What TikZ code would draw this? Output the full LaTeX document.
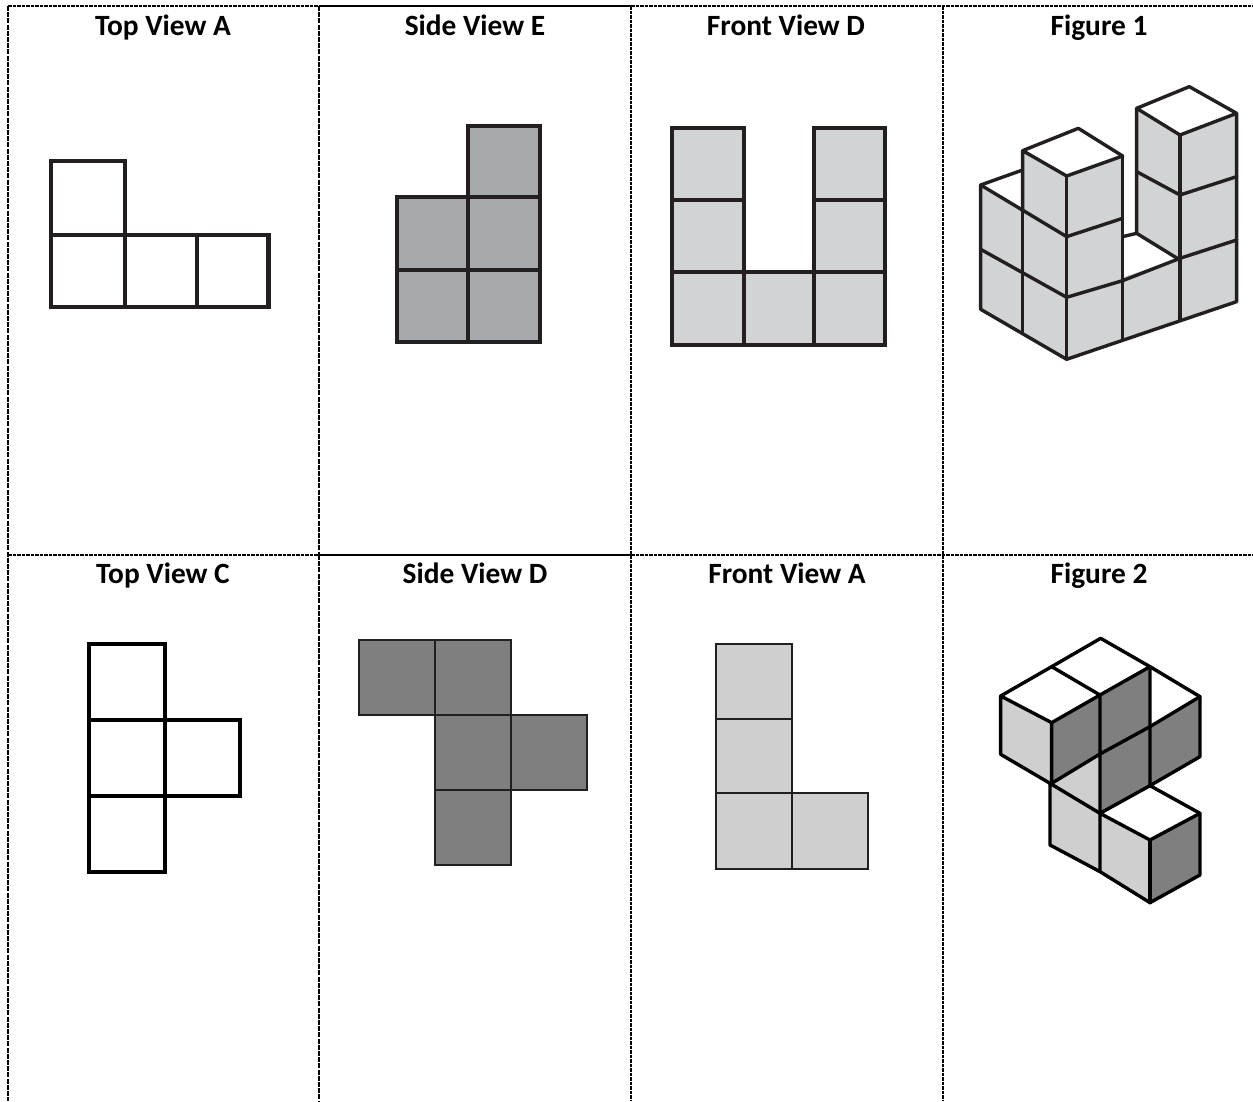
\documentclass[tikz,border=0pt]{standalone}
\usepackage{fontspec}
\setmainfont{Carlito}
\definecolor{ink}{HTML}{231F20}
\definecolor{lightg}{HTML}{D1D3D4}
\definecolor{midg}{HTML}{A7A9AC}
\definecolor{darkg}{HTML}{7F7F7F}
\definecolor{paleg}{HTML}{CFCFCF}
\tikzset{
  captext/.style={font=\bfseries\fontsize{29.4}{32}\selectfont, text=black, anchor=base, inner sep=0pt},
  rulethin/.style={black, line width=1.3pt, dash pattern=on 3.5pt off 1pt},
  rulethick/.style={black, line width=2.8pt, dash pattern=on 5pt off 1.2pt},
  solidrule/.style={black, line width=1.8pt},
  iso/.style={line width=3.4pt, draw=ink, line join=round, line cap=round},
  isob/.style={line width=3.4pt, draw=black, line join=round, line cap=round},
  grida/.style={line width=4.7pt, draw=ink, line cap=rect},
}
\begin{document}
\begin{tikzpicture}[x=1pt,y=-1pt]
\useasboundingbox (0,0) rectangle (1253,1101);
\fill[white] (0,0) rectangle (1253,1101);
% table rules
\draw[rulethick] (8,6) -- (8,1101);
\draw[rulethick] (319,6) -- (319,555);
\draw[rulethick,line width=2.2pt] (319,555) -- (319,1101);
\draw[rulethin] (631,6) -- (631,1101);
\draw[rulethin] (943,6) -- (943,1101);
\draw[rulethin] (8,6) -- (319,6);
\draw[solidrule] (319,6) -- (631,6);
\draw[rulethin] (631,6) -- (1253,6);
\draw[rulethin] (8,555) -- (319,555);
\draw[solidrule] (319,555) -- (631,555);
\draw[rulethin] (631,555) -- (1253,555);
% captions
\node[captext] (c1) at (163,35) {Top View A};
\node[captext] (c2) at (475,35) {Side View E};
\node[captext] (c3) at (786,35) {Front View D};
\node[captext] (c4) at (1099,35) {Figure 1};
\node[captext] (c5) at (163,583) {Top View C};
\node[captext] (c6) at (475,583) {Side View D};
\node[captext] (c7) at (787,583) {Front View A};
\node[captext] (c8) at (1099,583) {Figure 2};
% Top View A
\draw[grida] (51,161) rectangle (125,235) (51,235) rectangle (125,307) (125,235) rectangle (197,307) (197,235) rectangle (268.5,307);
% Side View E
\draw[grida,fill=midg] (468,126) rectangle (540,197) (397,197) rectangle (468,270) (468,197) rectangle (540,270) (397,270) rectangle (468,342) (468,270) rectangle (540,342);
% Front View D
\draw[grida,fill=lightg] (672,128) rectangle (744,200) (814,128) rectangle (885,200) (672,200) rectangle (744,272) (814,200) rectangle (885,272) (672,272) rectangle (744,345) (744,272) rectangle (814,345) (814,272) rectangle (885,345);
% Top View C
\draw[grida,draw=black] (89,644) rectangle (165,720) (89,720) rectangle (165,796) (165,720) rectangle (240,796) (89,796) rectangle (165,872);
% Side View D
\draw[line width=2.7pt,draw=ink,fill=darkg] (359,640) rectangle (435,715) (435,640) rectangle (511,715) (435,715) rectangle (511,790) (511,715) rectangle (587,790) (435,790) rectangle (511,865);
% Front View A
\draw[line width=2.5pt,draw=ink,fill=paleg] (716,644) rectangle (792,719) (716,719) rectangle (792,793) (716,793) rectangle (792,869) (792,793) rectangle (868,869);
% Figure 1
\begin{scope}[shift={(950,70)},x=0.3333pt,y=-0.3333pt]
\fill[lightg] (92,345) -- (350,500) -- (350,868) -- (92,718) -- cycle;
\fill[lightg] (218,242) -- (350,318) -- (350,500) -- (218,425) -- cycle;
\fill[lightg] (350,318) -- (518,258) -- (518,808) -- (350,868) -- cycle;
\fill[lightg] (518,622) -- (690,565) -- (690,750) -- (518,808) -- cycle;
\fill[lightg] (690,195) -- (860,130) -- (860,695) -- (690,750) -- cycle;
\fill[lightg] (560,115) -- (690,195) -- (690,565) -- (560,490) -- cycle;
\draw[iso] (92,345) -- (92,718) -- (350,868) -- (860,695) -- (860,130) -- (718,50) -- (560,115) -- (690,195) -- (860,130);
\draw[iso] (92,345) -- (218,300);
\draw[iso] (92,345) -- (350,500) -- (518,445);
\draw[iso] (92,538) -- (350,682) -- (518,632) -- (690,565) -- (860,510);
\draw[iso] (218,425) -- (218,790);
\draw[iso] (218,242) -- (385,175) -- (518,258) -- (350,318) -- (218,242) -- (218,425);
\draw[iso] (350,318) -- (350,868);
\draw[iso] (518,258) -- (518,808);
\draw[iso] (690,195) -- (690,750);
\draw[iso] (560,115) -- (560,490) -- (690,570);
\draw[iso] (560,305) -- (690,375) -- (860,320);
\draw[iso] (518,500) -- (560,490);
\end{scope}
% Figure 2
\begin{scope}[shift={(970,620)},x=0.3333pt,y=-0.3333pt]
\fill[paleg] (92,228) -- (245,308) -- (245,490) -- (92,403) -- cycle;
\fill[paleg] (245,490) -- (390,402) -- (390,580) -- cycle;
\fill[paleg] (240,490) -- (390,580) -- (390,755) -- (240,675) -- cycle;
\fill[paleg] (390,580) -- (540,660) -- (540,848) -- (390,755) -- cycle;
\fill[darkg] (245,308) -- (540,140) -- (540,320) -- (245,490) -- cycle;
\fill[darkg] (540,320) -- (690,230) -- (690,410) -- (540,497) -- cycle;
\fill[darkg] (390,402) -- (540,320) -- (540,497) -- (390,580) -- cycle;
\fill[darkg] (540,660) -- (690,580) -- (690,765) -- (540,848) -- cycle;
\draw[isob] (92,228) -- (245,140) -- (392,55) -- (540,140) -- (690,230) -- (690,410) -- (540,497) -- (690,580) -- (690,765) -- (540,848) -- (390,755) -- (240,675) -- (240,490) -- (92,403) -- cycle;
\draw[isob] (92,228) -- (245,308) -- (390,225) -- (540,140);
\draw[isob] (245,140) -- (390,225) -- (390,755);
\draw[isob] (245,308) -- (245,490) -- (390,402) -- (540,320) -- (690,230);
\draw[isob] (540,140) -- (540,497) -- (390,580) -- (540,660) -- (690,580);
\draw[isob] (240,490) -- (390,580);
\draw[isob] (540,660) -- (540,848);
\end{scope}
\end{tikzpicture}
\end{document}
